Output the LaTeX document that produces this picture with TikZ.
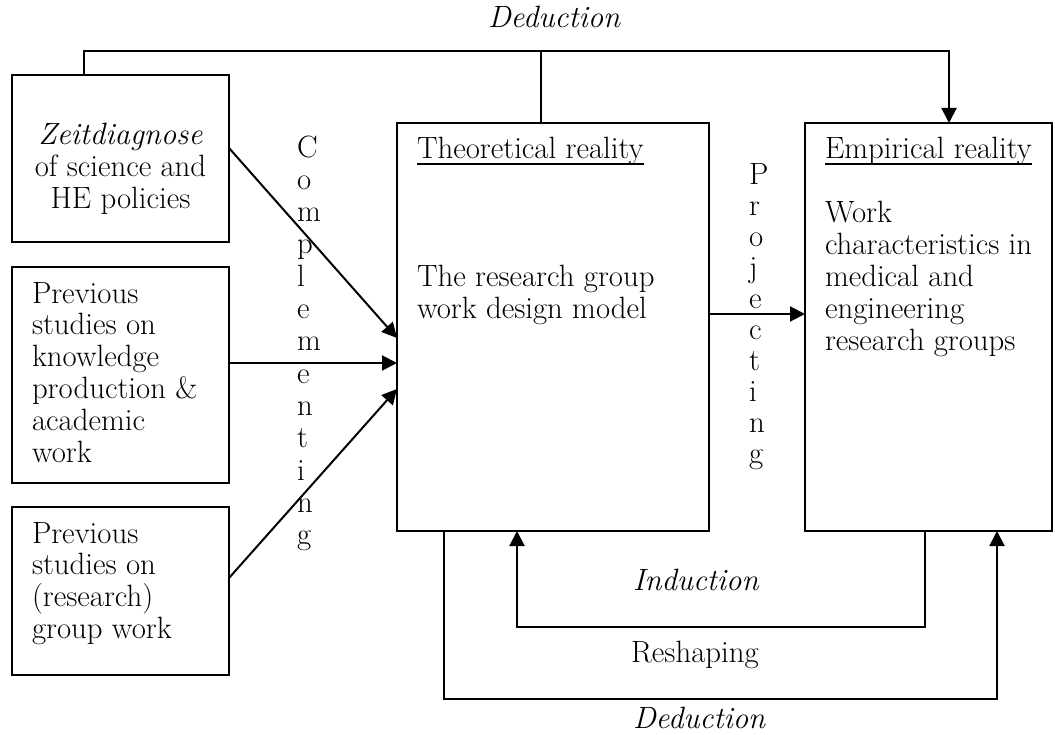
\documentclass[tikz,border=0pt]{standalone}
\usetikzlibrary{arrows.meta,calc}
% strut fixing the top of the first line of a text block
\newcommand\fst{\rule{0pt}{26pt}}
\newcommand\bodyfont{\fontsize{30.8pt}{31.8pt}\selectfont}
\newcommand\stackfont{\fontsize{30.8pt}{32.3pt}\selectfont}
\newcommand\projfont{\fontsize{30.8pt}{31.1pt}\selectfont}
\tikzset{
  box/.style={draw, line width=2pt, anchor=north west, inner sep=0pt, outer sep=0pt},
  txt/.style={inner sep=0pt, outer sep=0pt, anchor=north west, align=left, font=\bodyfont},
  lbl/.style={inner sep=0pt, outer sep=0pt, anchor=base west, font=\bodyfont},
  link/.style={line width=2pt},
  arr/.style={link, -{Triangle[length=15pt,width=15pt]}},
  uline/.style={line width=1.6pt},
}
\begin{document}
\begin{tikzpicture}[x=1pt,y=-1pt]
\useasboundingbox (0,0) rectangle (1055,735);

% boxes
\node[box, minimum width=217pt, minimum height=167pt] (z)  at (12,75)  {};
\node[box, minimum width=217pt, minimum height=216pt] (p1) at (12,267) {};
\node[box, minimum width=217pt, minimum height=168pt] (p2) at (12,507) {};
\node[box, minimum width=312pt, minimum height=408pt] (th) at (397,123) {};
\node[box, minimum width=247pt, minimum height=408pt] (em) at (805,123) {};

% box texts
\node[txt, align=center, anchor=north] (zt) at (120.5,119)
  {\fst\textit{Zeitdiagnose}\\of science and\\HE policies};
\node[txt] (p1t) at (32,277)
  {\fst Previous\\studies on\\knowledge\\production \&\\academic\\work};
\node[txt] (p2t) at (32,517)
  {\fst Previous\\studies on\\(research)\\group work};
\node[lbl] (tht) at (417,159) {Theoretical reality};
\draw[uline] ([yshift=-5pt]tht.base west) -- ([yshift=-5pt]tht.base east);
\node[txt] (thb) at (417,261) {\fst The research group\\work design model};
\node[lbl] (emt) at (825,159) {Empirical reality};
\draw[uline] ([yshift=-5pt]emt.base west) -- ([yshift=-5pt]emt.base east);
\node[txt] (emb) at (825,197)
  {\fst Work\\characteristics in\\medical and\\engineering\\research groups};

% vertical labels
\node[txt, font=\stackfont] (comp) at (297,131)
  {\fst C\\o\\m\\p\\l\\e\\m\\e\\n\\t\\i\\n\\g};
\node[txt, font=\projfont] (proj) at (749,158)
  {\fst P\\r\\o\\j\\e\\c\\t\\i\\n\\g};

% connector routing points
\coordinate (topR) at (949,51);
\coordinate (topM) at (541,51);
\coordinate (indR) at (925,627);
\coordinate (indL) at (517,627);
\coordinate (dedL) at (444,699);
\coordinate (dedR) at (997,699);

% deduction along the top
\draw[arr] ($(z.north west)+(72,0)$) |- (topR) -- (topR |- em.north);
\draw[link] (topM) -- (topM |- th.north);

% complementing inputs
\draw[arr] ($(z.north east)+(0,73)$)  -- ($(th.north west)+(0,215)$);
\draw[arr] ($(p1.north east)+(0,96)$) -- ($(th.north west)+(0,240)$);
\draw[arr] ($(p2.north east)+(0,71)$) -- ($(th.north west)+(0,266)$);

% projecting
\draw[arr] ($(th.north east)+(0,191)$) -- ($(em.north west)+(0,191)$);

% induction and deduction loops below
\draw[arr] (indR |- em.south) -- (indR) -- (indL) -- (indL |- th.south);
\draw[arr] (dedL |- th.south) -- (dedL) -- (dedR) -- (dedR |- em.south);

% loop labels
\node[lbl] (dtop) at (488,28)  {\textit{Deduction}};
\node[lbl] (ind)  at (633,590) {\textit{Induction}};
\node[lbl] (resh) at (631,662) {Reshaping};
\node[lbl] (dbot) at (633,728) {\textit{Deduction}};
\end{tikzpicture}
\end{document}
